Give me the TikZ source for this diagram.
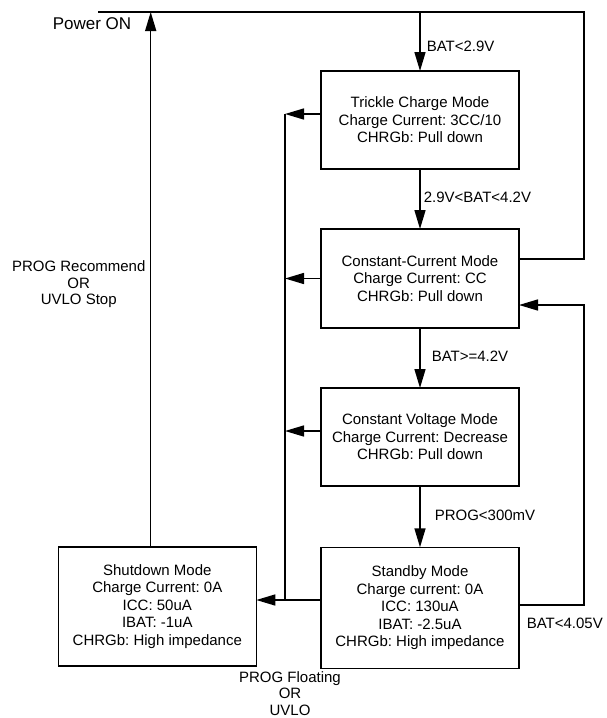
\documentclass[tikz,border=0pt]{standalone}
\usepackage{fontspec}
\setmainfont{Liberation Sans}
\usetikzlibrary{arrows.meta}
\frenchspacing
\begin{document}
\begin{tikzpicture}[x=1pt,y=-1pt,
  line width=1.5pt,
  modebox/.style={draw, line width=1.6pt, align=center, inner sep=0pt, outer sep=0pt,
    minimum width=198pt, font=\fontsize{15}{17.4}\selectfont},
  lbl/.style={font=\fontsize{15}{16.7}\selectfont, inner sep=0pt},
  arr/.style={-{Triangle[length=19pt,width=11pt]}},
]
\useasboundingbox (0,0) rectangle (606,718);
% boxes
\node[modebox, minimum height=98pt] (trickle) at (420,120)
  {Trickle Charge Mode\\Charge Current: 3CC/10\\CHRGb: Pull down};
\node[modebox, minimum height=99pt] (cc) at (420,278.5)
  {Constant-Current Mode\\Charge Current: CC\\CHRGb: Pull down};
\node[modebox, minimum height=98pt] (cv) at (420,437)
  {Constant Voltage Mode\\Charge Current: Decrease\\CHRGb: Pull down};
\node[modebox, minimum height=121pt] (stby) at (420,607.8)
  {Standby Mode\\Charge current: 0A\\ICC: 130uA\\IBAT: -2.5uA\\CHRGb: High impedance};
\node[modebox, minimum height=118.5pt] (shut) at (157.3,606.5)
  {Shutdown Mode\\Charge Current: 0A\\ICC: 50uA\\IBAT: -1uA\\CHRGb: High impedance};
% coordinates
\coordinate (pwrL) at (98,12);
\coordinate (pwrR) at (584,12);
\coordinate (busTop) at (285,114);
\coordinate (busBot) at (285,600);
\coordinate (ccOut) at ([yshift=19.5pt]cc.east);
\coordinate (ccIn) at ([yshift=-26.5pt]cc.east);
\coordinate (stOut) at ([yshift=2.8pt]stby.east);
\coordinate (shutUp) at ([xshift=-6.6pt]shut.north);
% power-on line
\draw (ccOut) -| (pwrR) -- (pwrL);
\draw[arr] (trickle.north |- pwrL) -- (trickle.north);
\draw[arr] (shutUp) -- (shutUp |- pwrL);
% chain
\draw[arr] (trickle.south) -- (cc.north);
\draw[arr] (cc.south) -- (cv.north);
\draw[arr] (cv.south) -- (stby.north);
% recharge loop
\draw[arr] (stOut) -- (stOut -| pwrR) |- (ccIn);
% bus to shutdown
\draw (busTop) -- (busBot);
\draw[arr] ([yshift=6pt]trickle.west) -- ([yshift=6pt]trickle.west -| busTop);
\draw[arr] (cc.west) -- (cc.west -| busTop);
\draw[arr] ([yshift=6pt]cv.west) -- ([yshift=6pt]cv.west -| busTop);
\draw[arr] ([yshift=7.8pt]stby.west) -- ([yshift=7.8pt]stby.west -| shut.east);
% labels
\node[font=\fontsize{17}{20}\selectfont, inner sep=0pt] (pwr) at (92,23.5) {Power ON};
\node[lbl, anchor=west] (l1) at (426,46.7) {BAT<2.9V};
\node[lbl, anchor=west] (l2) at (423,197) {2.9V<BAT<4.2V};
\node[lbl, anchor=west] (l3) at (431,356.7) {BAT>=4.2V};
\node[lbl, anchor=west] (l4) at (434,515) {PROG<300mV};
\node[lbl, anchor=west] (l5) at (526,623.3) {BAT<4.05V};
\node[lbl, align=center] (l6) at (290,693.5) {PROG Floating\\OR\\UVLO};
\node[lbl, align=center] (l7) at (78.7,284.3) {PROG Recommend\\OR\\UVLO Stop};
\end{tikzpicture}
\end{document}
